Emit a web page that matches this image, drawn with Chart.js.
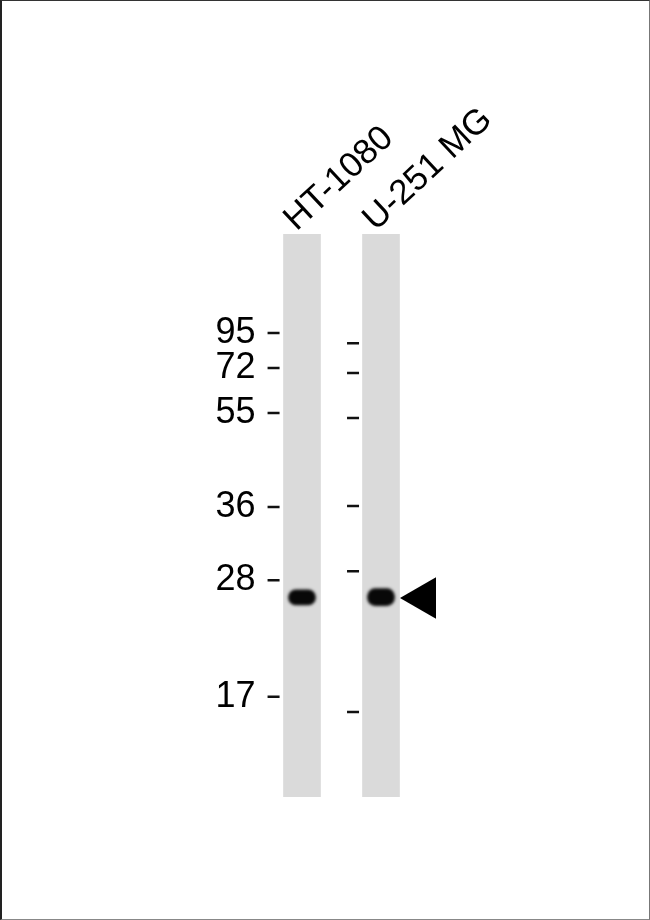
<!DOCTYPE html>
<html>
<head>
<meta charset="utf-8">
<script src="https://cdn.jsdelivr.net/npm/chart.js@4/dist/chart.umd.min.js"></script>
<style>
  html, body { margin:0; padding:0; background:#fff; }
  #wrap { position:relative; width:650px; height:920px; }
  #frame { position:absolute; left:0; top:0; width:650px; height:920px; box-sizing:border-box;
           border-left:2px solid #222; border-top:1px solid #333; border-right:1px solid #777; border-bottom:1px solid #888;
           pointer-events:none; }
</style>
</head>
<body>
<div id="wrap">
  <canvas id="blot" width="650" height="920"></canvas>
  <div id="frame"></div>
</div>
<script>
// lanes (x = lane number)
const laneNames = ['HT-1080', 'U-251 MG'];
const lanePos = [1, 2];

// marker ladder: kDa and migration (0 = top of lane, 100 = bottom)
const markerKDa = [95, 72, 55, 36, 28, 17];
const markerLeft = [17.6, 23.8, 31.8, 48.5, 61.5, 82.2];
const markerRight = [19.4, 24.7, 32.7, 48.3, 59.9, 84.9];

// detected bands [from, to] migration, per lane
const bandRanges = [[63.2, 65.9], [63.0, 66.0]];
const arrowAt = 64.65;

const ladderLeftX = 0.64;
const ladderRightX = 1.646;
const arrowX = 2.544;
const labelShift = -0.21;

const blurBands = {
  id: 'blurBands',
  beforeDatasetDraw(chart, args) {
    if (chart.data.datasets[args.index].label === 'bands') {
      chart.ctx.save();
      chart.ctx.filter = 'blur(1.4px)';
    }
  },
  afterDatasetDraw(chart, args) {
    if (chart.data.datasets[args.index].label === 'bands') chart.ctx.restore();
  }
};

const font = "'Liberation Sans', Arial, sans-serif";

new Chart(document.getElementById('blot'), {
  type: 'scatter',
  data: {
    datasets: [
      {
        label: 'arrow', type: 'scatter', order: 1,
        data: [{ x: arrowX, y: arrowAt }],
        pointStyle: 'triangle', pointRotation: -90, pointRadius: 24,
        backgroundColor: '#000', borderColor: '#000', borderWidth: 0
      },
      {
        label: 'ladderL', type: 'scatter', order: 2,
        data: markerLeft.map(v => ({ x: ladderLeftX, y: v })),
        pointStyle: 'line', pointRadius: 6, borderColor: '#111', borderWidth: 2.5
      },
      {
        label: 'ladderR', type: 'scatter', order: 2,
        data: markerRight.map(v => ({ x: ladderRightX, y: v })),
        pointStyle: 'line', pointRadius: 6, borderColor: '#111', borderWidth: 2.5
      },
      {
        label: 'bands', type: 'bar', order: 3, grouped: false,
        data: lanePos.map((p, i) => ({ x: p, y: bandRanges[i] })),
        backgroundColor: '#080808', barThickness: 27, borderRadius: 8, borderSkipped: false
      },
      {
        label: 'lanes', type: 'bar', order: 4, grouped: false,
        data: lanePos.map(p => ({ x: p, y: [0, 100] })),
        backgroundColor: '#dadada', barThickness: 37, borderSkipped: false
      }
    ]
  },
  options: {
    responsive: false,
    animation: false,
    devicePixelRatio: 1,
    layout: { padding: { left: 0, top: 0, right: 190, bottom: 123 } },
    plugins: { legend: { display: false }, tooltip: { enabled: false } },
    scales: {
      x: { type: 'linear', min: 0.5, max: 3.0, offset: false, display: false },
      x2: {
        type: 'linear', position: 'top', min: 0.5 + labelShift, max: 3.0 + labelShift, offset: false,
        grid: { display: false, drawTicks: false }, border: { display: false },
        afterBuildTicks: s => { s.ticks = lanePos.map(v => ({ value: v })); },
        afterFit: s => { s.height = 234; },
        ticks: {
          autoSkip: false, minRotation: 43, maxRotation: 43, padding: -6,
          color: '#000', font: { family: font, size: 35 },
          callback: v => laneNames[lanePos.indexOf(v)]
        }
      },
      y: {
        type: 'linear', reverse: true, min: 0, max: 100,
        grid: { display: false, drawTicks: false }, border: { display: false },
        afterBuildTicks: s => { s.ticks = markerLeft.map(v => ({ value: v })); },
        afterFit: s => { s.width = 262.5; },
        ticks: {
          autoSkip: false, padding: 7, color: '#000',
          font: { family: font, size: 36 },
          callback: v => String(markerKDa[markerLeft.indexOf(v)])
        }
      }
    }
  },
  plugins: [blurBands]
});
</script>
</body>
</html>
